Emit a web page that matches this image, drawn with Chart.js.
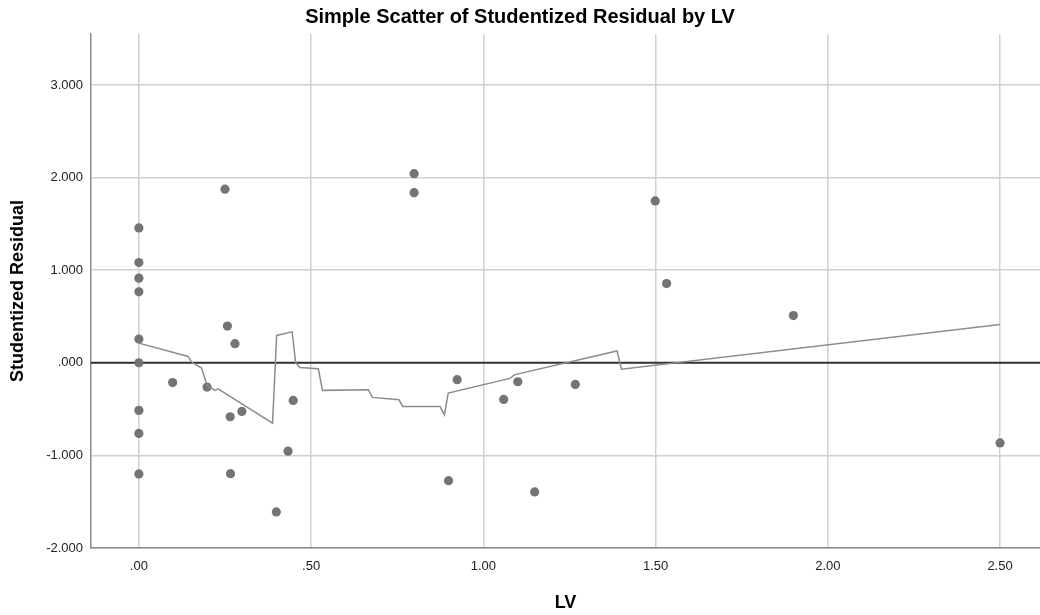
<!DOCTYPE html>
<html>
<head>
<meta charset="utf-8">
<script src="https://cdn.jsdelivr.net/npm/chart.js@4/dist/chart.umd.min.js"></script>
<style>
  html, body { margin: 0; padding: 0; background: #fff; }
  #wrap { width: 1040px; height: 615px; }
</style>
</head>
<body>
<div id="wrap"><canvas id="chart" width="1040" height="615"></canvas></div>
<script>
// observed points
const lvValues = [0, 0, 0, 0, 0, 0, 0, 0, 0,
  0.098, 0.198, 0.25, 0.257, 0.279, 0.265, 0.266, 0.299, 0.399, 0.433, 0.448,
  0.799, 0.799, 0.899, 0.924, 1.059, 1.100, 1.149, 1.267, 1.499, 1.532, 1.90, 2.5];
const residValues = [1.456, 1.082, 0.914, 0.766, 0.256, 0.0, -0.514, -0.763, -1.2,
  -0.214, -0.262, 1.874, 0.396, 0.206, -0.583, -1.198, -0.525, -1.61, -0.955, -0.407,
  2.042, 1.837, -1.273, -0.183, -0.396, -0.205, -1.395, -0.234, 1.748, 0.855, 0.51, -0.865];

// fit line (loess-like)
const fitLv = [0, 0.143, 0.153, 0.182, 0.198, 0.221, 0.230, 0.388, 0.400, 0.445, 0.455,
  0.467, 0.521, 0.533, 0.666, 0.678, 0.755, 0.766, 0.874, 0.887, 0.898, 1.077, 1.092,
  1.388, 1.401, 2.5];
const fitResid = [0.212, 0.068, 0.008, -0.057, -0.245, -0.299, -0.281, -0.651, 0.295, 0.334, 0.003,
  -0.050, -0.065, -0.298, -0.291, -0.374, -0.399, -0.471, -0.471, -0.563, -0.327, -0.169, -0.128,
  0.128, -0.070, 0.414];

const xTicks = [0, 0.5, 1.0, 1.5, 2.0, 2.5];
const yTicks = [-2, -1, 0, 1, 2, 3];
const refLineY = 0;

const FONT = '"Liberation Sans", Arial, sans-serif';

const refLine = {
  id: 'refLine',
  beforeDatasetsDraw(chart) {
    const { ctx, chartArea, scales } = chart;
    const y = scales.y.getPixelForValue(refLineY);
    ctx.save();
    ctx.strokeStyle = '#333333';
    ctx.lineWidth = 2;
    ctx.beginPath();
    ctx.moveTo(chartArea.left, y);
    ctx.lineTo(chartArea.right, y);
    ctx.stroke();
    ctx.restore();
  }
};

new Chart(document.getElementById('chart'), {
  type: 'scatter',
  data: {
    datasets: [
      {
        type: 'line',
        data: fitLv.map((x, i) => ({ x, y: fitResid[i] })),
        borderColor: '#8c8c8c',
        borderWidth: 1.5,
        pointRadius: 0,
        fill: false,
        tension: 0
      },
      {
        data: lvValues.map((x, i) => ({ x, y: residValues[i] })),
        backgroundColor: '#747474',
        borderWidth: 0,
        pointRadius: 4.6
      }
    ]
  },
  options: {
    responsive: false,
    animation: false,
    layout: { padding: 0, autoPadding: false },
    plugins: {
      legend: { display: false },
      tooltip: { enabled: false },
      title: {
        display: true,
        text: 'Simple Scatter of Studentized Residual by LV',
        color: '#000',
        font: { family: FONT, size: 20, weight: 'bold' },
        padding: { top: 5, bottom: 5 }
      }
    },
    scales: {
      x: {
        type: 'linear',
        min: -0.139,
        max: 2.616,
        afterBuildTicks: s => { s.ticks = xTicks.map(v => ({ value: v })); },
        afterFit: s => { s.height = 67; s.paddingLeft = 0; s.paddingRight = 0; },
        grid: { color: '#d0d0d0', lineWidth: 1.5, drawTicks: false },
        border: { display: true, color: '#8a8a8a', width: 1.5 },
        ticks: {
          padding: 11,
          color: '#222',
          font: { family: FONT, size: 13 },
          callback: v => v.toFixed(2).replace(/^(-?)0\./, '$1.')
        },
        title: {
          display: true,
          text: 'LV',
          color: '#000',
          font: { family: FONT, size: 18, weight: 'bold' },
          padding: { top: 0, bottom: 1 }
        }
      },
      y: {
        type: 'linear',
        min: -2,
        max: 3.55,
        afterBuildTicks: s => { s.ticks = yTicks.map(v => ({ value: v })); },
        afterFit: s => { s.width = 91; },
        grid: { color: '#d0d0d0', lineWidth: 1.5, drawTicks: false },
        border: { display: true, color: '#8a8a8a', width: 1.5 },
        ticks: {
          padding: 8,
          color: '#222',
          font: { family: FONT, size: 13 },
          callback: v => v.toFixed(3).replace(/^(-?)0\./, '$1.')
        },
        title: {
          display: true,
          text: 'Studentized Residual',
          color: '#000',
          font: { family: FONT, size: 18, weight: 'bold' },
          padding: { top: 7, bottom: 0 }
        }
      }
    }
  },
  plugins: [refLine]
});
</script>
</body>
</html>
